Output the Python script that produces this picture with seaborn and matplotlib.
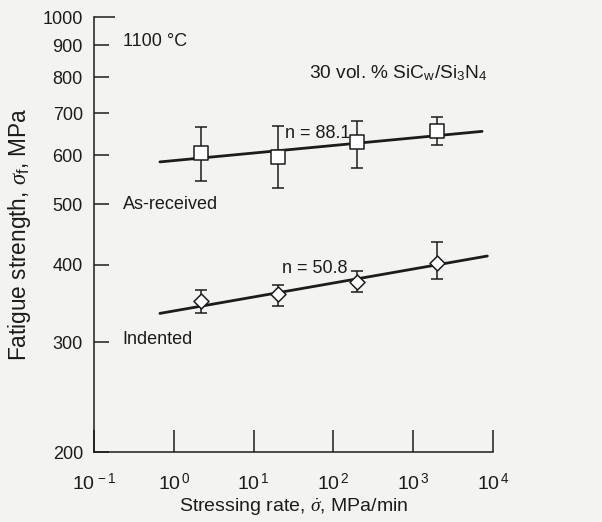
import numpy as np
import matplotlib
matplotlib.use("Agg")
import matplotlib.pyplot as plt
from matplotlib.ticker import NullLocator
import seaborn as sns

# stressing rate (MPa/min) of the test points
rate = [2.2, 20, 200, 2000]

# as-received (squares)
asrec_mean = [604, 596, 629, 655]
asrec_lo = [545, 532, 573, 623]
asrec_hi = [665, 669, 680, 692]
asrec_fit_x = [0.67, 7300]
asrec_fit_y = [585, 655]

# indented (diamonds)
ind_mean = [350, 359, 375, 403]
ind_lo = [334, 343, 362, 379]
ind_hi = [364, 371, 390, 435]
ind_fit_x = [0.67, 8500]
ind_fit_y = [334, 413]

x_ticks = [1e-1, 1e0, 1e1, 1e2, 1e3, 1e4]
x_labels = [r"$10^{\,-1}$", r"$10^{\,0}$", r"$10^{\,1}$", r"$10^{\,2}$",
            r"$10^{\,3}$", r"$10^{\,4}$"]
y_ticks = [200, 300, 400, 500, 600, 700, 800, 900, 1000]

sns.set_theme(style="ticks")
plt.rcParams["font.family"] = ["Liberation Sans", "DejaVu Sans"]
plt.rcParams["mathtext.fontset"] = "custom"
plt.rcParams["mathtext.rm"] = "Liberation Sans"
plt.rcParams["mathtext.it"] = "Liberation Serif:italic"
plt.rcParams["mathtext.bf"] = "Liberation Sans:bold"

bg = "#f3f3f1"
ink = "#1c1c1c"
fs = 13

fig = plt.figure(figsize=(6.02, 5.22), dpi=100, facecolor=bg)
ax = fig.add_axes([94 / 602, 1 - 452 / 522, 399 / 602, 435 / 522])
ax.set_facecolor(bg)

# fit lines
sns.lineplot(x=asrec_fit_x, y=asrec_fit_y, color=ink, lw=2, ax=ax, zorder=2)
sns.lineplot(x=ind_fit_x, y=ind_fit_y, color=ink, lw=2, ax=ax, zorder=2)

# error bars
for m, lo, hi in [(asrec_mean, asrec_lo, asrec_hi), (ind_mean, ind_lo, ind_hi)]:
    m = np.array(m)
    ax.errorbar(rate, m, yerr=[m - np.array(lo), np.array(hi) - m], fmt="none",
                ecolor=ink, elinewidth=1.1, capsize=4.5, capthick=1.1, zorder=3)

# markers
sns.scatterplot(x=rate, y=asrec_mean, marker="s", s=88, facecolor="white",
                edgecolor=ink, linewidth=1.1, ax=ax, zorder=4)
sns.scatterplot(x=rate, y=ind_mean, marker="D", s=58, facecolor="white",
                edgecolor=ink, linewidth=1.1, ax=ax, zorder=4)

ax.set_xscale("log")
ax.set_yscale("log")
ax.set_xlim(1e-1, 1e4)
ax.set_ylim(200, 1000)
ax.set_xticks(x_ticks)
ax.set_xticklabels(x_labels)
ax.set_yticks(y_ticks)
ax.set_yticklabels([str(v) for v in y_ticks])
ax.xaxis.set_minor_locator(NullLocator())
ax.yaxis.set_minor_locator(NullLocator())

ax.tick_params(axis="x", direction="in", length=16, width=1.1, pad=15,
               labelsize=fs + 1, colors=ink)
ax.tick_params(axis="y", direction="in", length=11, width=1.1, pad=8,
               labelsize=fs, colors=ink)
ax.yaxis.get_major_ticks()[-1].tick1line.set_markersize(15)

sns.despine(ax=ax)
for sp in ["left", "bottom"]:
    ax.spines[sp].set_linewidth(1.1)
    ax.spines[sp].set_color(ink)

ax.set_xlabel(r"Stressing rate, $\dot{\sigma}$, MPa/min", fontsize=14, color=ink)
ax.set_ylabel(r"Fatigue strength, $\sigma_{\mathrm{f}}$, MPa", fontsize=16.3, color=ink)
ax.xaxis.set_label_coords(0.501, -0.103)
ax.yaxis.set_label_coords(-0.153, 0.5)

ax.text(0.23, 915, "1100 °C", fontsize=fs, color=ink, va="center", ha="left")
ax.text(50, 812, r"30 vol. % SiC$_{\mathrm{w}}$/Si$_3$N$_4$", fontsize=fs + 0.8,
        color=ink, va="center", ha="left")
ax.text(24.4, 650, "n = 88.1", fontsize=fs, color=ink, va="center", ha="left")
ax.text(0.23, 500, "As-received", fontsize=fs, color=ink, va="center", ha="left")
ax.text(23, 394, "n = 50.8", fontsize=fs, color=ink, va="center", ha="left")
ax.text(0.23, 303, "Indented", fontsize=fs, color=ink, va="center", ha="left")

fig.savefig("out.png", dpi=100, facecolor=bg)
